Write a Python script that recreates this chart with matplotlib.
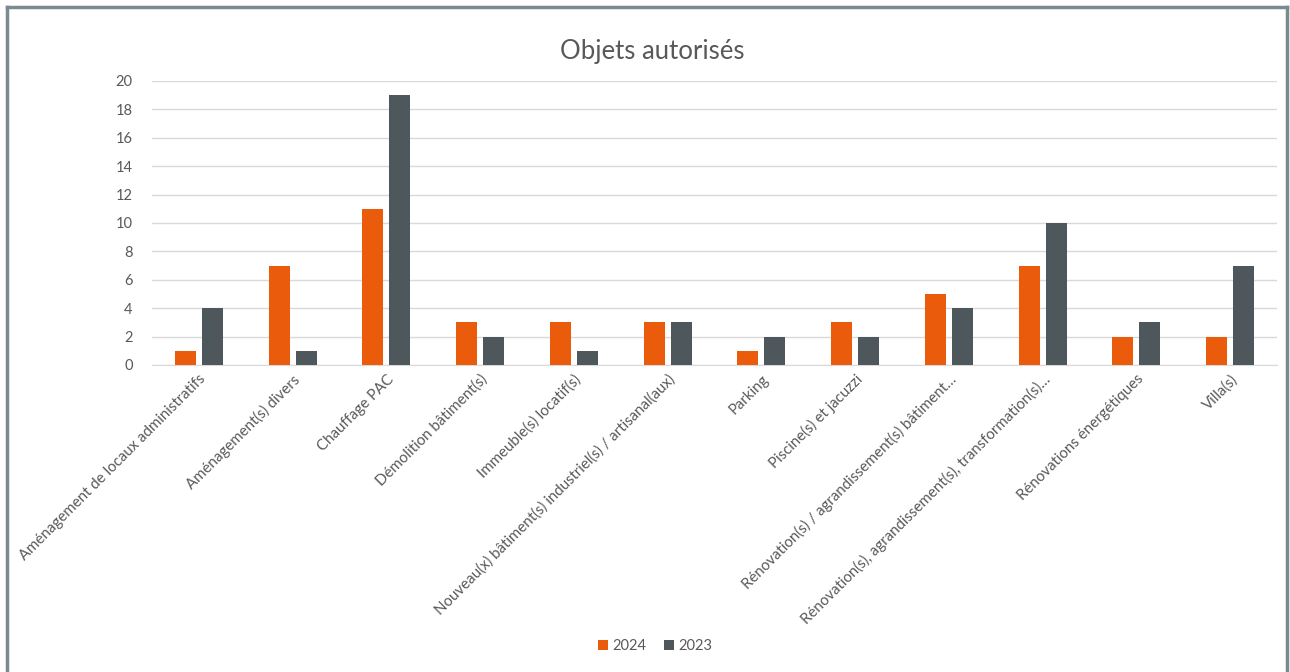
import numpy as np
import matplotlib.pyplot as plt
from matplotlib.lines import Line2D

categories = [
    "Aménagement de locaux administratifs",
    "Aménagement(s) divers",
    "Chauffage PAC",
    "Démolition bâtiment(s)",
    "Immeuble(s) locatif(s)",
    "Nouveau(x) bâtiment(s) industriel(s) / artisanal(aux)",
    "Parking",
    "Piscine(s) et jacuzzi",
    "Rénovation(s) / agrandissement(s) bâtiment…",
    "Rénovation(s), agrandissement(s), transformation(s)…",
    "Rénovations énergétiques",
    "Villa(s)",
]
v2024 = [1, 7, 11, 3, 3, 3, 1, 3, 5, 7, 2, 2]
v2023 = [4, 1, 19, 2, 1, 3, 2, 2, 4, 10, 3, 7]

plt.rcParams["font.family"] = ["Lato", "DejaVu Sans"]
txt = "#595959"

fig = plt.figure(figsize=(12.9, 6.72), dpi=100)
ax = fig.add_axes([152 / 1290, 1 - 365 / 672, 1125 / 1290, 284 / 672])

x = np.arange(len(categories))
w = 0.224
off = 0.144
ax.bar(x - off, v2024, w, color="#EA5B0C", label="2024", zorder=3)
ax.bar(x + off, v2023, w, color="#4E585C", label="2023", zorder=3)

ax.set_xlim(-0.5, len(categories) - 0.5)
ax.set_ylim(0, 20)
ax.set_yticks(range(0, 21, 2))
ax.grid(axis="y", color="#D9D9D9", lw=1, zorder=0)
for s in ["top", "right", "left"]:
    ax.spines[s].set_visible(False)
ax.spines["bottom"].set_color("#D9D9D9")
ax.tick_params(length=0, colors=txt, labelsize=10.5)
ax.tick_params(axis="y", pad=14)
ax.tick_params(axis="x", labelsize=10.8, pad=5)
ax.set_xticks(x)
ax.set_xticklabels(categories, rotation=45, ha="right", rotation_mode="anchor")

fig.text(0.506, 1 - 52 / 672, "Objets autorisés", ha="center", va="center",
         fontsize=18.5, color=txt)

fig.legend(loc="center", bbox_to_anchor=(655 / 1290, 1 - 646 / 672), ncol=2,
           frameon=False, fontsize=10.5, labelcolor=txt, handlelength=0.7,
           handleheight=0.7, handletextpad=0.3, columnspacing=1.2)

# border of the chart frame
bc = "#7A8A90"
for xs, ys in [([7 / 1290, 7 / 1290], [0, 1 - 7 / 672]),
               ([7 / 1290, 1287 / 1290], [1 - 7 / 672, 1 - 7 / 672]),
               ([1287 / 1290, 1287 / 1290], [1 - 7 / 672, 0])]:
    fig.add_artist(Line2D(xs, ys, color=bc, lw=2.5, transform=fig.transFigure))

fig.savefig("out.png", dpi=100)
